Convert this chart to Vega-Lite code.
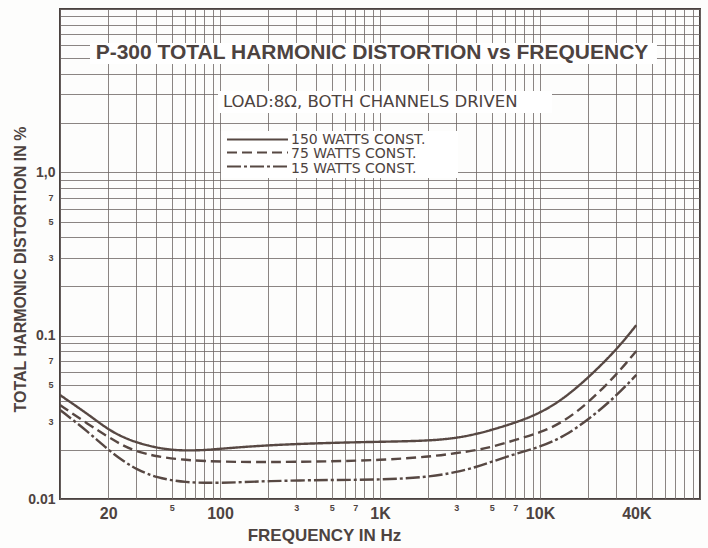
{
  "$schema": "https://vega.github.io/schema/vega-lite/v6.json",
  "width": 640,
  "height": 490,
  "autosize": "none",
  "padding": {"left": 60, "top": 9, "right": 8, "bottom": 49},
  "background": "#fdfdfc",
  "config": {
    "view": {"stroke": "#4a4240", "strokeWidth": 2},
    "font": "Liberation Sans"
  },
  "layer": [
    {
      "data": {
        "values": [
          {"series": "150 WATTS CONST.", "freq": 10, "thd": 0.0433},
          {"series": "150 WATTS CONST.", "freq": 15, "thd": 0.033},
          {"series": "150 WATTS CONST.", "freq": 20, "thd": 0.0266},
          {"series": "150 WATTS CONST.", "freq": 25, "thd": 0.0238},
          {"series": "150 WATTS CONST.", "freq": 30, "thd": 0.0222},
          {"series": "150 WATTS CONST.", "freq": 40, "thd": 0.0206},
          {"series": "150 WATTS CONST.", "freq": 50, "thd": 0.02},
          {"series": "150 WATTS CONST.", "freq": 60, "thd": 0.0198},
          {"series": "150 WATTS CONST.", "freq": 80, "thd": 0.0199},
          {"series": "150 WATTS CONST.", "freq": 100, "thd": 0.0203},
          {"series": "150 WATTS CONST.", "freq": 200, "thd": 0.0214},
          {"series": "150 WATTS CONST.", "freq": 500, "thd": 0.0221},
          {"series": "150 WATTS CONST.", "freq": 1000, "thd": 0.0224},
          {"series": "150 WATTS CONST.", "freq": 2000, "thd": 0.0227},
          {"series": "150 WATTS CONST.", "freq": 3000, "thd": 0.0236},
          {"series": "150 WATTS CONST.", "freq": 4000, "thd": 0.025},
          {"series": "150 WATTS CONST.", "freq": 5000, "thd": 0.0265},
          {"series": "150 WATTS CONST.", "freq": 7000, "thd": 0.0293},
          {"series": "150 WATTS CONST.", "freq": 10000, "thd": 0.0335},
          {"series": "150 WATTS CONST.", "freq": 14000, "thd": 0.041},
          {"series": "150 WATTS CONST.", "freq": 20000, "thd": 0.0551},
          {"series": "150 WATTS CONST.", "freq": 30000, "thd": 0.0817},
          {"series": "150 WATTS CONST.", "freq": 40000, "thd": 0.116},
          {"series": "75 WATTS CONST.", "freq": 10, "thd": 0.0376},
          {"series": "75 WATTS CONST.", "freq": 15, "thd": 0.0287},
          {"series": "75 WATTS CONST.", "freq": 20, "thd": 0.024},
          {"series": "75 WATTS CONST.", "freq": 25, "thd": 0.0211},
          {"series": "75 WATTS CONST.", "freq": 30, "thd": 0.0196},
          {"series": "75 WATTS CONST.", "freq": 40, "thd": 0.0182},
          {"series": "75 WATTS CONST.", "freq": 60, "thd": 0.0173},
          {"series": "75 WATTS CONST.", "freq": 100, "thd": 0.0169},
          {"series": "75 WATTS CONST.", "freq": 200, "thd": 0.0168},
          {"series": "75 WATTS CONST.", "freq": 500, "thd": 0.017},
          {"series": "75 WATTS CONST.", "freq": 1000, "thd": 0.0173},
          {"series": "75 WATTS CONST.", "freq": 2000, "thd": 0.0181},
          {"series": "75 WATTS CONST.", "freq": 3000, "thd": 0.0191},
          {"series": "75 WATTS CONST.", "freq": 4000, "thd": 0.0199},
          {"series": "75 WATTS CONST.", "freq": 5000, "thd": 0.0208},
          {"series": "75 WATTS CONST.", "freq": 7000, "thd": 0.023},
          {"series": "75 WATTS CONST.", "freq": 10000, "thd": 0.0254},
          {"series": "75 WATTS CONST.", "freq": 14000, "thd": 0.0296},
          {"series": "75 WATTS CONST.", "freq": 20000, "thd": 0.0387},
          {"series": "75 WATTS CONST.", "freq": 30000, "thd": 0.0575},
          {"series": "75 WATTS CONST.", "freq": 40000, "thd": 0.0806},
          {"series": "15 WATTS CONST.", "freq": 10, "thd": 0.0351},
          {"series": "15 WATTS CONST.", "freq": 15, "thd": 0.0258},
          {"series": "15 WATTS CONST.", "freq": 20, "thd": 0.02},
          {"series": "15 WATTS CONST.", "freq": 25, "thd": 0.017},
          {"series": "15 WATTS CONST.", "freq": 30, "thd": 0.0152},
          {"series": "15 WATTS CONST.", "freq": 40, "thd": 0.0135},
          {"series": "15 WATTS CONST.", "freq": 60, "thd": 0.0126},
          {"series": "15 WATTS CONST.", "freq": 100, "thd": 0.0125},
          {"series": "15 WATTS CONST.", "freq": 200, "thd": 0.0129},
          {"series": "15 WATTS CONST.", "freq": 500, "thd": 0.0131},
          {"series": "15 WATTS CONST.", "freq": 1000, "thd": 0.0131},
          {"series": "15 WATTS CONST.", "freq": 2000, "thd": 0.0136},
          {"series": "15 WATTS CONST.", "freq": 3000, "thd": 0.0146},
          {"series": "15 WATTS CONST.", "freq": 4000, "thd": 0.0157},
          {"series": "15 WATTS CONST.", "freq": 5000, "thd": 0.0169},
          {"series": "15 WATTS CONST.", "freq": 7000, "thd": 0.0189},
          {"series": "15 WATTS CONST.", "freq": 10000, "thd": 0.0208},
          {"series": "15 WATTS CONST.", "freq": 14000, "thd": 0.024},
          {"series": "15 WATTS CONST.", "freq": 20000, "thd": 0.0305},
          {"series": "15 WATTS CONST.", "freq": 30000, "thd": 0.0427},
          {"series": "15 WATTS CONST.", "freq": 40000, "thd": 0.0575}
        ]
      },
      "mark": {"type": "line", "interpolate": "basis", "strokeWidth": 2.4, "color": "#574843"},
      "encoding": {
        "x": {
          "field": "freq",
          "type": "quantitative",
          "scale": {"type": "log", "domain": [10, 100000], "nice": false},
          "axis": {
            "values": [10, 20, 30, 40, 50, 60, 70, 80, 90, 100, 200, 300, 400, 500, 600, 700, 800, 900, 1000, 2000, 3000, 4000, 5000, 6000, 7000, 8000, 9000, 10000, 20000, 30000, 40000, 50000, 60000, 70000, 80000, 90000, 100000],
            "title": "FREQUENCY IN Hz",
            "grid": true,
            "gridColor": "#6d6663",
            "gridWidth": 0.8,
            "domain": false,
            "ticks": false,
            "labelOverlap": false,
            "labelFlush": false,
            "labelExpr": "datum.value==20?'20':datum.value==50?'5':datum.value==100?'100':datum.value==300?'3':datum.value==500?'5':datum.value==700?'7':datum.value==1000?'1K':datum.value==3000?'3':datum.value==5000?'5':datum.value==7000?'7':datum.value==10000?'10K':datum.value==40000?'40K':''",
            "labelFontSize": {"condition": {"test": "datum.value==20||datum.value==100||datum.value==1000||datum.value==10000||datum.value==40000", "value": 16}, "value": 9},
            "labelPadding": {"condition": {"test": "datum.value==20||datum.value==100||datum.value==1000||datum.value==10000||datum.value==40000", "value": 6}, "value": 4},
            "labelFontWeight": "bold",
            "labelColor": "#4d4340",
            "titleFontSize": 17,
            "titleFontWeight": "bold",
            "titleColor": "#4d4340",
            "titleX": 264,
            "titleY": 36,
            "titleAlign": "center",
            "titleBaseline": "middle"
          }
        },
        "y": {
          "field": "thd",
          "type": "quantitative",
          "scale": {"type": "log", "domain": [0.01, 10], "nice": false},
          "axis": {
            "values": [0.01, 0.02, 0.03, 0.04, 0.05, 0.06, 0.07, 0.08, 0.09, 0.1, 0.2, 0.3, 0.4, 0.5, 0.6, 0.7, 0.8, 0.9, 1, 2, 3, 4, 5, 6, 7, 8, 9, 10],
            "title": "TOTAL HARMONIC DISTORTION IN %",
            "grid": true,
            "gridColor": "#6d6663",
            "gridWidth": 0.8,
            "domain": false,
            "ticks": false,
            "labelOverlap": false,
            "labelFlush": false,
            "labelExpr": "datum.value==1?'1,0':datum.value==0.1?'0.1':datum.value==0.01?'0.01':(datum.value==0.03||datum.value==0.3)?'3':(datum.value==0.05||datum.value==0.5)?'5':(datum.value==0.07||datum.value==0.7)?'7':''",
            "labelFontSize": {"condition": {"test": "datum.value==1||datum.value==0.1||datum.value==0.01", "value": 14}, "value": 9},
            "labelPadding": {"condition": {"test": "datum.value==1||datum.value==0.1||datum.value==0.01", "value": 5}, "value": 7},
            "labelFontWeight": "bold",
            "labelColor": "#4d4340",
            "titleFontSize": 16,
            "titleFontWeight": "bold",
            "titleColor": "#4d4340",
            "titleX": -40,
            "titleY": 260,
            "titleAlign": "center",
            "titleBaseline": "middle"
          }
        },
        "strokeDash": {
          "field": "series",
          "type": "nominal",
          "scale": {"domain": ["150 WATTS CONST.", "75 WATTS CONST.", "15 WATTS CONST."], "range": [[1, 0], [10, 5], [14, 3, 3, 3]]},
          "legend": null
        }
      }
    },
    {
      "data": {"values": [{"box": "title"}]},
      "mark": {"type": "rect", "fill": "#ffffff"},
      "encoding": {"x": {"datum": 15.4}, "x2": {"datum": 53830}, "y": {"datum": 6.19}, "y2": {"datum": 4.61}}
    },
    {
      "data": {"values": [{"label": "P-300 TOTAL HARMONIC DISTORTION vs FREQUENCY"}]},
      "mark": {"type": "text", "font": "Liberation Sans", "fontWeight": "bold", "fontSize": 21, "color": "#4d4340", "align": "center", "baseline": "middle"},
      "encoding": {"x": {"datum": 891}, "y": {"datum": 5.38}, "text": {"field": "label"}}
    },
    {
      "data": {"values": [{"box": "load"}]},
      "mark": {"type": "rect", "fill": "#ffffff"},
      "encoding": {"x": {"datum": 97.2}, "x2": {"datum": 11885}, "y": {"datum": 3.148}, "y2": {"datum": 2.308}}
    },
    {
      "data": {"values": [{"label": "LOAD:8Ω, BOTH CHANNELS DRIVEN"}]},
      "mark": {"type": "text", "font": "DejaVu Sans", "fontSize": 16.5, "color": "#4d4340", "align": "left", "baseline": "middle"},
      "encoding": {"x": {"datum": 104.4}, "y": {"datum": 2.696}, "text": {"field": "label"}}
    },
    {
      "data": {"values": [{"box": "legend"}]},
      "mark": {"type": "rect", "fill": "#ffffff"},
      "encoding": {"x": {"datum": 101.4}, "x2": {"datum": 3073}, "y": {"datum": 1.791}, "y2": {"datum": 0.923}}
    },
    {
      "data": {"values": [{"series": "150 WATTS CONST."}]},
      "mark": {"type": "rule", "strokeWidth": 2.2, "color": "#574843"},
      "encoding": {"x": {"datum": 110.6}, "x2": {"datum": 266}, "y": {"datum": 1.589}, "strokeDash": {"field": "series", "type": "nominal", "legend": null}}
    },
    {
      "data": {"values": [{"series": "75 WATTS CONST."}]},
      "mark": {"type": "rule", "strokeWidth": 2.2, "color": "#574843"},
      "encoding": {"x": {"datum": 110.6}, "x2": {"datum": 266}, "y": {"datum": 1.323}, "strokeDash": {"field": "series", "type": "nominal", "legend": null}}
    },
    {
      "data": {"values": [{"series": "15 WATTS CONST."}]},
      "mark": {"type": "rule", "strokeWidth": 2.2, "color": "#574843"},
      "encoding": {"x": {"datum": 110.6}, "x2": {"datum": 266}, "y": {"datum": 1.086}, "strokeDash": {"field": "series", "type": "nominal", "legend": null}}
    },
    {
      "data": {"values": [{"label": "150 WATTS CONST."}]},
      "mark": {"type": "text", "font": "DejaVu Sans", "fontSize": 14, "color": "#4d4340", "align": "left", "baseline": "middle"},
      "encoding": {"x": {"datum": 277.8}, "y": {"datum": 1.578}, "text": {"field": "label"}}
    },
    {
      "data": {"values": [{"label": "75 WATTS CONST."}]},
      "mark": {"type": "text", "font": "DejaVu Sans", "fontSize": 14, "color": "#4d4340", "align": "left", "baseline": "middle"},
      "encoding": {"x": {"datum": 277.8}, "y": {"datum": 1.286}, "text": {"field": "label"}}
    },
    {
      "data": {"values": [{"label": "15 WATTS CONST."}]},
      "mark": {"type": "text", "font": "DejaVu Sans", "fontSize": 14, "color": "#4d4340", "align": "left", "baseline": "middle"},
      "encoding": {"x": {"datum": 277.8}, "y": {"datum": 1.048}, "text": {"field": "label"}}
    }
  ]
}
